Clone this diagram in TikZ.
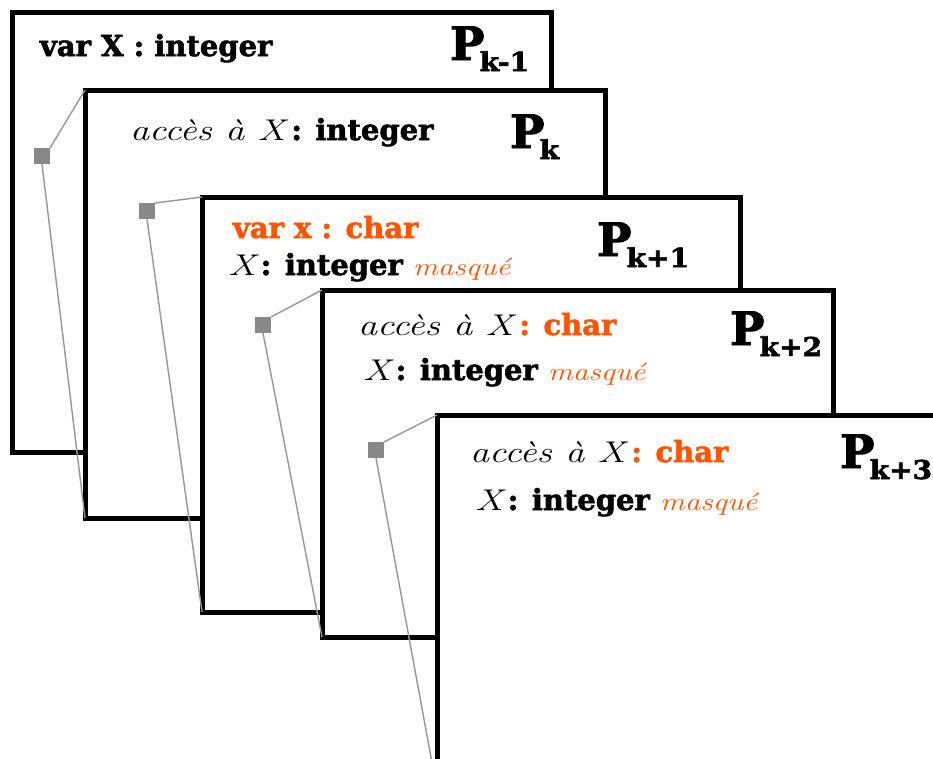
\documentclass[tikz,border=0pt]{standalone}
\usepackage{fontspec}
\newfontfamily\slab[BoldFeatures={FakeBold=2}]{DejaVu Serif}
\usepackage{graphicx}
\definecolor{orng}{RGB}{255,85,0}
\definecolor{sqgray}{RGB}{136,136,136}
\definecolor{lngray}{RGB}{150,150,150}
\newcommand\bsz{\slab\bfseries\fontsize{29}{34}\selectfont}
\newcommand\itx[1]{\scalebox{1.27}[1]{\fontsize{30}{36}\selectfont\itshape #1}}
\newcommand\masq{\hspace{10pt}\scalebox{1.25}[1]{\fontsize{25}{28}\selectfont\itshape\color{orng}masqué}}
\newcommand\procname[1]{{\slab\bfseries\fontsize{46}{50}\selectfont P}\kern-5pt\raisebox{-11pt}{\scalebox{1.08}[1]{\slab\bfseries\fontsize{26}{30}\selectfont #1}}}
\tikzset{
  frame/.style={draw=black, line width=5pt, fill=white, outer sep=0pt, inner sep=0pt, anchor=north west},
  sq/.style={fill=sqgray, draw=none, minimum size=16pt, inner sep=0pt, outer sep=0pt},
  link/.style={draw=lngray, line width=1.4pt},
  txt/.style={anchor=base west, inner sep=0pt, outer sep=0pt}
}
\begin{document}
\begin{tikzpicture}[x=1pt,y=-1pt]
\useasboundingbox (0,0) rectangle (933,758);
\clip (0,0) rectangle (933,758);
\fill[white] (0,0) rectangle (933,758);
% box 1
\node[frame, minimum width=539pt, minimum height=440pt] (b1) at (12,12) {};
\node[txt] (t1) at (40,56) {\bsz var X : integer};
\node[txt] (p1) at (450,60) {\procname{k-1}};
\node[sq] (s1) at (42,156) {};
% box 2
\node[frame, minimum width=520pt, minimum height=428pt] (b2) at (85,90) {};
\node[txt] (t2) at (130,140) {\itx{accès à X}\kern6pt{\bsz: integer}};
\node[txt] (p2) at (510,148) {\procname{k}};
\node[sq] (s2) at (147,211) {};
% box 3
\node[frame, minimum width=538pt, minimum height=415pt] (b3) at (202,197) {};
\node[txt] (t3a) at (233,238) {\bsz\color{orng}var x : char};
\node[txt] (t3b) at (228,275) {\itx{X}\kern5pt{\bsz: integer}\masq};
\node[txt] (p3) at (597,256) {\procname{k+1}};
\node[sq] (s3) at (263,325) {};
% box 4
\node[frame, minimum width=511pt, minimum height=347pt] (b4) at (322,290) {};
\node[txt] (t4a) at (358,335) {\itx{accès à X}\kern6pt{\bsz\color{orng}: char}};
\node[txt] (t4b) at (363,380) {\itx{X}\kern5pt{\bsz: integer}\masq};
\node[txt] (p4) at (730,345) {\procname{k+2}};
\node[sq] (s4) at (376,450) {};
% box 5
\node[frame, minimum width=523pt, minimum height=375pt] (b5) at (437,415) {};
\node[txt] (t5a) at (470,462) {\itx{accès à X}\kern6pt{\bsz\color{orng}: char}};
\node[txt] (t5b) at (475,510) {\itx{X}\kern5pt{\bsz: integer}\masq};
\node[txt] (p5) at (840,468) {\procname{k+3}};
% links
\draw[link] (s1.north east) -- (b2.north west);
\draw[link] (s1.south) -- (b2.south west);
\draw[link] (s2.north east) -- (b3.north west);
\draw[link] (s2.south) -- (b3.south west);
\draw[link] (s3.north east) -- (b4.north west);
\draw[link] (s3.south) -- (b4.south west);
\draw[link] (s4.north east) -- (b5.north west);
\draw[link] (s4.south) -- (b5.south west);
\end{tikzpicture}
\end{document}
